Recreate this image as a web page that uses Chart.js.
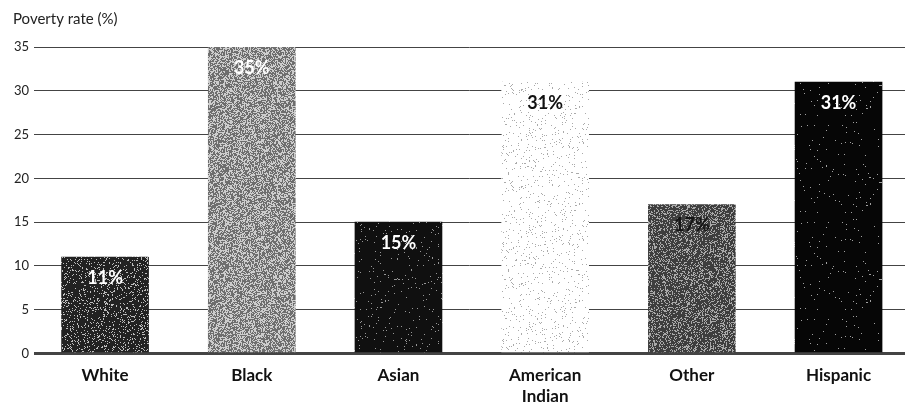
<!DOCTYPE html>
<html>
<head>
<meta charset="utf-8">
<script src="https://cdn.jsdelivr.net/npm/chart.js@4"></script>
<style>
  html, body { margin: 0; padding: 0; background: #fff; }
  #wrap { width: 905px; height: 405px; }
</style>
</head>
<body>
<div id="wrap"><canvas id="chart" width="905" height="405"></canvas></div>
<script>
// Poverty rate by race / ethnicity
const categories = ['White', 'Black', 'Asian', ['American', 'Indian'], 'Other', 'Hispanic'];
const povertyRates = [11, 35, 15, 31, 17, 31];
const rateLabels = ['11%', '35%', '15%', '31%', '17%', '31%'];
const yTicks = [0, 5, 10, 15, 20, 25, 30, 35];
const axisTitle = 'Poverty rate (%)';

const labelColors = ['#ffffff', '#ffffff', '#ffffff', '#111111', '#151515', '#ffffff'];

const FONT = 'Lato, "Open Sans", sans-serif';

// Halftone-style screen fills: [base grey, dot grey, share of dots]
const screens = [
  [34, 190, 0.15],
  [110, 205, 0.45],
  [16, 150, 0.025],
  [255, 170, 0.05],
  [62, 170, 0.30],
  [6, 160, 0.012]
];

function screenFill(base, dot, share) {
  const size = 97;
  const c = document.createElement('canvas');
  c.width = size; c.height = size;
  const g = c.getContext('2d');
  const img = g.createImageData(size, size);
  for (let y = 0; y < size; y++) {
    for (let x = 0; x < size; x++) {
      let h = (x * 374761393 + y * 668265263) | 0;
      h = Math.imul(h ^ (h >>> 13), 1274126177);
      h = (h ^ (h >>> 16)) >>> 0;
      const v = (h % 10000) / 10000 < share ? dot : base;
      const k = (y * size + x) * 4;
      img.data[k] = img.data[k + 1] = img.data[k + 2] = v;
      img.data[k + 3] = 255;
    }
  }
  g.putImageData(img, 0, 0);
  return g.createPattern(c, 'repeat');
}

const barFills = screens.map(s => screenFill(s[0], s[1], s[2]));

// Value labels inside the top of each bar
const barValueLabels = {
  id: 'barValueLabels',
  afterDatasetsDraw(chart) {
    const ctx = chart.ctx;
    const meta = chart.getDatasetMeta(0);
    ctx.save();
    ctx.font = 'bold 18px ' + FONT;
    ctx.textAlign = 'center';
    ctx.textBaseline = 'middle';
    meta.data.forEach((bar, i) => {
      ctx.fillStyle = labelColors[i];
      ctx.fillText(rateLabels[i], bar.x, bar.y + 21);
    });
    ctx.restore();
  }
};

// Unit caption above the value axis
const axisCaption = {
  id: 'axisCaption',
  afterDraw(chart) {
    const ctx = chart.ctx;
    ctx.save();
    ctx.font = '15px ' + FONT;
    ctx.fillStyle = '#222';
    ctx.textAlign = 'left';
    ctx.textBaseline = 'middle';
    ctx.fillText(axisTitle, 13, 19);
    ctx.restore();
  }
};

new Chart(document.getElementById('chart'), {
  type: 'bar',
  data: {
    datasets: [{
      data: povertyRates.map((v, i) => ({ x: i, y: v })),
      backgroundColor: barFills,
      borderWidth: 0,
      barThickness: 87
    }]
  },
  plugins: [barValueLabels, axisCaption],
  options: {
    responsive: false,
    animation: false,
    events: [],
    layout: { padding: { left: 9, right: 0, top: 47, bottom: -13 } },
    plugins: {
      legend: { display: false },
      tooltip: { enabled: false },
      title: { display: false }
    },
    scales: {
      x: {
        type: 'linear',
        offset: false,
        min: -0.484,
        max: 5.453,
        grid: { display: false, drawTicks: false },
        border: { display: false },
        afterBuildTicks(scale) {
          scale.ticks = categories.map((_, i) => ({ value: i }));
        },
        ticks: {
          autoSkip: false,
          maxRotation: 0,
          padding: 11,
          color: '#111',
          font: { family: FONT, size: 17, weight: 'bold', lineHeight: 1.25 },
          callback: (v) => categories[v]
        }
      },
      y: {
        min: 0,
        max: 35,
        afterBuildTicks(scale) {
          scale.ticks = yTicks.map(v => ({ value: v }));
        },
        grid: {
          color: '#444',
          lineWidth: (c) => (c.tick && c.tick.value === 0 ? 3 : 1),
          drawTicks: false
        },
        border: { display: false },
        ticks: {
          padding: 5,
          color: '#222',
          font: { family: FONT, size: 13 }
        }
      }
    }
  }
});
</script>
</body>
</html>
